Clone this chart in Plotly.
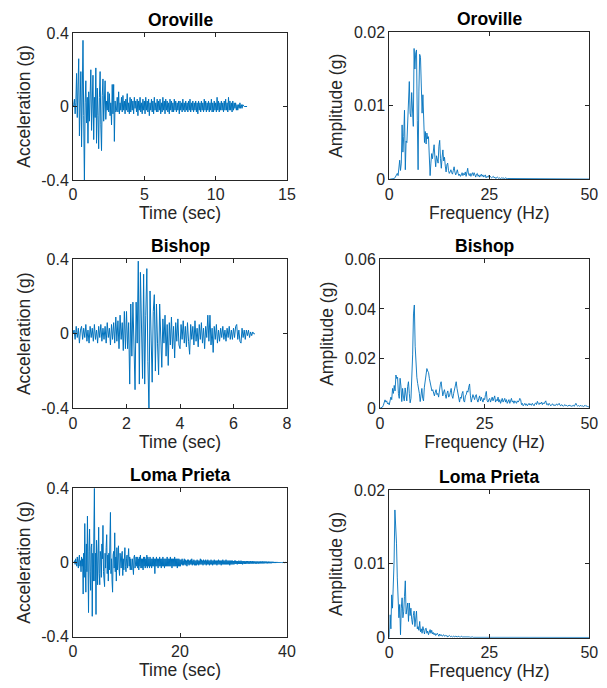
import numpy as np
import plotly.graph_objects as go
from plotly.subplots import make_subplots

# sample steps of the records (sec) and of the spectra (Hz)
oro_dt = 0.05
bis_dt = 0.04
lom_dt = 0.1
df = 0.2

# acceleration records (g)
oro_acc = [
    0, 0.01, 0.04, -0.04, 0.02, 0.18, -0.06, 0.05, 0.26, -0.16,
    0.08, 0.19, -0.22, 0.10, 0.36, -0.05, -0.42, 0.02, 0.14, -0.09,
    0.05, -0.20, 0.08, -0.08, 0.10, 0.20, -0.13, 0.06, 0.17, -0.18,
    0.05, -0.06, 0.21, -0.20, 0.10, -0.05, -0.23, 0.05, 0.19, -0.10,
    -0.24, 0.06, 0.15, -0.08, 0.04, 0.14, -0.07, 0.03, -0.02, 0.08,
    -0.03, 0.07, -0.05, 0.02, -0.10, 0.12, -0.04, 0.12, -0.19, 0.03,
    -0.03, -0.02, 0.05, -0.03, 0.08, -0.04, 0.02, -0.02, 0.05, -0.03,
    0.06, -0.02, 0.03, -0.04, 0.04, -0.02, 0.07, -0.03, 0.02, -0.04,
    0.05, -0.03, 0.04, -0.02, 0.03, -0.04, 0.05, -0.01, 0.03, -0.03,
    0.04, -0.05, 0.03, -0.02, 0.05, -0.03, 0.02, -0.04, 0.04, -0.02,
    0.03, -0.04, 0.05, -0.02, 0.03, -0.03, 0.04, -0.05, 0.02, -0.02,
    0.04, -0.03, 0.03, -0.04, 0.05, -0.02, 0.02, -0.03, 0.04, -0.03,
    0.03, -0.02, 0.04, -0.04, 0.02, -0.03, 0.05, -0.02, 0.03, -0.04,
    0.04, -0.02, 0.03, -0.03, 0.02, -0.04, 0.04, -0.02, 0.03, -0.03,
    0.02, -0.03, 0.04, -0.02, 0.03, -0.03, 0.02, -0.02, 0.03, -0.04,
    0.03, -0.02, 0.02, -0.03, 0.04, -0.02, 0.02, -0.03, 0.03, -0.02,
    0.02, -0.03, 0.03, -0.02, 0.04, -0.03, 0.02, -0.02, 0.03, -0.03,
    0.02, -0.02, 0.03, -0.03, 0.02, -0.04, 0.03, -0.02, 0.02, -0.03,
    0.03, -0.02, 0.02, -0.03, 0.04, -0.02, 0.03, -0.03, 0.02, -0.02,
    0.03, -0.03, 0.02, -0.02, 0.04, -0.03, 0.02, -0.03, 0.03, -0.02,
    0.02, -0.03, 0.05, -0.02, 0.03, -0.03, 0.02, -0.02, 0.03, -0.02,
    0.02, -0.03, 0.03, -0.02, 0.04, -0.02, 0.02, -0.03, 0.05, -0.02,
    0.03, -0.02, 0.02, -0.03, 0.03, -0.02, 0.02, -0.01, 0.02, -0.02,
    0.01, -0.02, 0.01, -0.01, 0.02, -0.01, 0.01, -0.01, 0.01, 0.00,
    0.00, 0.00, 0.00, 0.00, 0.00,
]
bis_acc = [
    0, 0.02, -0.03, 0.04, -0.02, 0.03, -0.05, 0.02, 0.04, -0.03,
    0.03, -0.02, 0.05, -0.04, 0.02, -0.05, 0.04, -0.02, 0.03, -0.04,
    0.05, -0.03, 0.02, -0.05, 0.04, -0.02, 0.05, -0.04, 0.03, -0.03,
    0.04, -0.05, 0.06, -0.02, 0.03, -0.06, 0.05, -0.03, 0.06, -0.05,
    0.09, -0.04, 0.07, -0.08, 0.10, -0.03, 0.06, -0.09, 0.12, -0.08,
    0.12, -0.08, 0.06, -0.27, 0.16, -0.12, 0.17, -0.15, -0.30, 0.17,
    -0.05, 0.39, -0.27, 0.33, -0.10, -0.24, 0.32, -0.27, 0.10, 0.35,
    -0.15, -0.42, 0.23, -0.10, -0.26, 0.12, 0.21, -0.20, 0.16, -0.05,
    -0.22, 0.16, -0.10, -0.18, 0.08, -0.05, 0.10, -0.12, 0.05, -0.17,
    0.06, -0.06, 0.09, -0.08, 0.04, -0.13, 0.06, -0.04, 0.08, -0.06,
    -0.08, 0.05, -0.03, 0.07, -0.05, 0.04, -0.07, 0.06, -0.04, -0.11,
    0.05, -0.03, 0.04, -0.06, 0.07, -0.04, 0.03, -0.07, 0.05, -0.03,
    0.06, -0.05, 0.03, -0.08, 0.04, -0.02, 0.10, -0.04, 0.10, -0.06,
    0.03, -0.10, 0.04, -0.03, 0.05, -0.05, 0.02, -0.04, 0.03, -0.02,
    0.04, -0.03, 0.02, -0.04, 0.03, -0.02, 0.04, -0.03, 0.02, -0.03,
    0.03, -0.02, 0.04, 0.05, -0.03, 0.02, -0.04, -0.05, 0.03, -0.02,
    0.02, -0.03, 0.02, -0.01, 0.02, -0.02, 0.01, -0.01, 0.01, 0.00,
    0.00,
]
lom_acc = [
    0, 0, 0, 0.01, -0.01, 0.02, 0.00, -0.02, 0.03, 0.01,
    -0.03, 0.02, 0.04, -0.02, 0.01, -0.05, 0.03, -0.02, 0.02, -0.17,
    0.05, -0.08, 0.21, -0.03, -0.16, 0.10, -0.05, 0.25, -0.12, -0.27,
    0.06, 0.18, -0.05, -0.15, 0.08, 0.10, -0.29, 0.05, -0.10, 0.12,
    0.40, -0.10, 0.05, -0.28, 0.12, 0.03, -0.12, 0.08, 0.19, -0.06,
    -0.12, 0.06, 0.03, -0.08, 0.10, 0.02, 0.20, -0.05, -0.09, -0.13,
    0.05, -0.03, 0.08, 0.15, -0.06, 0.04, -0.10, 0.05, -0.04, 0.10,
    0.27, -0.06, 0.02, -0.10, -0.16, 0.04, 0.06, -0.03, 0.16, -0.05,
    0.03, -0.10, 0.08, -0.04, 0.02, 0.09, -0.03, -0.07, 0.05, 0.01,
    -0.03, 0.04, 0.06, -0.07, 0.02, -0.04, 0.03, 0.08, -0.02, -0.05,
    0.02, 0.04, -0.03, 0.05, 0.075, -0.02, 0.03, -0.04, 0.02, -0.03,
    -0.04, 0.02, -0.03, -0.065, 0.03, 0.04, -0.03, 0.02, 0.03, -0.02,
    0.03, -0.03, 0.02, -0.04, 0.03, -0.02, 0.04, -0.03, 0.02, -0.03,
    0.02, -0.04, 0.03, -0.02, 0.03, -0.03, 0.02, -0.02, 0.04, -0.03,
    0.03, -0.02, 0.02, -0.03, 0.03, -0.02, 0.02, -0.03, 0.02, -0.02,
    0.03, -0.02, 0.02, -0.06, 0.02, -0.02, 0.03, -0.02, 0.02, -0.03,
    0.02, -0.02, 0.03, -0.02, 0.02, -0.03, 0.02, -0.02, 0.03, -0.02,
    0.02, -0.03, 0.02, -0.02, 0.02, -0.02, 0.03, -0.02, 0.02, -0.02,
    0.02, -0.02, 0.03, -0.02, 0.02, -0.03, 0.02, -0.02, 0.02, -0.02,
    0.03, -0.02, 0.02, -0.02, 0.02, -0.03, 0.02, -0.02, 0.02, -0.02,
    0.015, -0.02, 0.015, -0.01, 0.02, -0.015, 0.01, -0.015, 0.02, -0.01,
    0.015, -0.015, 0.01, -0.02, 0.015, -0.01, 0.015, -0.015, 0.01, -0.01,
    0.015, -0.01, 0.02, -0.015, 0.01, -0.01, 0.015, -0.015, 0.01, -0.015,
    0.01, -0.015, 0.015, -0.01, 0.01, -0.015, 0.01, -0.01, 0.02, -0.01,
    0.015, -0.01, 0.01, -0.015, 0.015, -0.01, 0.01, -0.01, 0.015, -0.015,
    0.01, -0.01, 0.015, -0.01, 0.01, -0.015, 0.01, -0.01, 0.015, -0.01,
    0.01, -0.015, 0.01, -0.01, 0.015, -0.01, 0.01, -0.01, 0.01, -0.015,
    0.01, -0.01, 0.015, -0.01, 0.01, -0.01, 0.01, -0.015, 0.01, -0.01,
    0.015, -0.01, 0.01, -0.01, 0.01, -0.01, 0.015, -0.01, 0.01, -0.01,
    0.01, -0.01, 0.01, -0.015, 0.01, -0.01, 0.01, -0.01, 0.01, -0.01,
    0.008, -0.01, 0.01, -0.008, 0.01, -0.008, 0.008, -0.01, 0.008, -0.008,
    0.01, -0.008, 0.008, -0.008, 0.01, -0.008, 0.008, -0.01, 0.008, -0.006,
    0.008, -0.008, 0.006, -0.008, 0.008, -0.006, 0.008, -0.006, 0.006, -0.008,
    0.006, -0.006, 0.008, -0.006, 0.006, -0.006, 0.008, -0.006, 0.006, -0.005,
    0.006, -0.006, 0.005, -0.006, 0.006, -0.005, 0.005, -0.006, 0.005, -0.005,
    0.006, -0.005, 0.005, -0.005, 0.006, -0.005, 0.005, -0.005, 0.005, -0.004,
    0.005, -0.004, 0.005, -0.005, 0.004, -0.004, 0.005, -0.004, 0.004, -0.004,
    0.004, -0.004, 0.004, -0.003, 0.004, -0.003, 0.003, -0.003, 0.003, -0.003,
    0.003, -0.002, 0.003, -0.002, 0.002, -0.002, 0.002, -0.002, 0.002, -0.001,
    0.002, -0.001, 0.001, -0.001, 0.001, -0.001, 0.001, 0.000, 0.001, 0.000,
    0.000,
]

# Fourier amplitude spectra (g)
oro_amp = [
    0, 0, 0, 0, 0, 0, 0.0001, 0.0002, 0.0004, 0.0006,
    0.0008, 0.0005, 0.0018, 0.0026, 0.0012, 0.0022, 0.0074, 0.0037, 0.0058, 0.0094,
    0.0013, 0.0052, 0.0050, 0.0074, 0.0101, 0.0133, 0.0090, 0.0085, 0.0118, 0.0095,
    0.0072, 0.0178, 0.0150, 0.0172, 0.0176, 0.0080, 0.0013, 0.0120, 0.0170, 0.0166,
    0.0140, 0.0090, 0.0115, 0.0062, 0.0050, 0.0065, 0.0048, 0.0063, 0.0055, 0.0058,
    0.0030, 0.0005, 0.0022, 0.0035, 0.0028, 0.0040, 0.0047, 0.0030, 0.0017, 0.0032,
    0.0025, 0.0022, 0.0045, 0.0053, 0.0028, 0.0015, 0.0030, 0.0040, 0.0025, 0.0030,
    0.0018, 0.0010, 0.0020, 0.0022, 0.0012, 0.0008, 0.0010, 0.0013, 0.0009, 0.0007,
    0.0012, 0.0017, 0.0010, 0.0006, 0.0009, 0.0013, 0.0008, 0.0005, 0.0007, 0.0004,
    0.0006, 0.0009, 0.0005, 0.0008, 0.0006, 0.0010, 0.0004, 0.0011, 0.0015, 0.0007,
    0.0005, 0.0008, 0.0004, 0.0007, 0.0009, 0.0005, 0.0009, 0.0006, 0.0003, 0.0007,
    0.0008, 0.0004, 0.0006, 0.0003, 0.0005, 0.0007, 0.0004, 0.0006, 0.0003, 0.0005,
    0.0006, 0.0002, 0.0004, 0.0003, 0.0005, 0.0002, 0.0004, 0.0003, 0.0002, 0.0003,
    0.0004, 0.0002, 0.0003, 0.0001, 0.0002, 0.0003, 0.0002, 0.0001, 0.0002, 0.0001,
    0.0002, 0.0001, 0.0002, 0.0001, 0.0001, 0.0002, 0.0001, 0.0001, 0.0001, 0.0001,
    0.0001, 0.00005, 0.0001, 0.00005, 0.0001, 0.00005, 0.00005, 0.0001, 0.00005, 0.00005,
    0.0001, 0.00005, 0.00005, 0.00005, 0.0001, 0.00005, 0.00005, 0.00005, 0.00005, 0.0001,
    0.00005, 0.00005, 0.00005, 0.00003, 0.00005, 0.00005, 0.00003, 0.00005, 0.00005, 0.00003,
    0.00005, 0.00003, 0.00005, 0.00003, 0.00003, 0.00005, 0.00003, 0.00003, 0.00005, 0.00003,
    0.00003, 0.00003, 0.00005, 0.00003, 0.00003, 0.00003, 0.00003, 0.00005, 0.00003, 0.00003,
    0.00003, 0.00003, 0.00003, 0.00005, 0.00003, 0.00003, 0.00003, 0.00003, 0.00003, 0.00003,
    0.00003, 0.00005, 0.00003, 0.00003, 0.00003, 0.00003, 0.00003, 0.00003, 0.00005, 0.00003,
    0.00003, 0.00003, 0.00003, 0.00003, 0.00003, 0.00003, 0.00003, 0.00003, 0.00003, 0.00003,
    0.00003, 0.00003, 0.00005, 0.00003, 0.00003, 0.00003, 0.00003, 0.00003, 0.00003, 0.00003,
    0.00003, 0.00003, 0.00003, 0.00003, 0.00003, 0.00003, 0.00003, 0.00003, 0.00003, 0.00003,
    0.00003,
]
bis_amp = [
    0, 0.0002, 0.0001, 0.0005, 0.0012, 0.0020, 0.0034, 0.0025, 0.0030, 0.0018,
    0.0022, 0.0014, 0.0030, 0.0045, 0.0035, 0.0080, 0.0060, 0.0092, 0.0070, 0.0134,
    0.0120, 0.0125, 0.0060, 0.0040, 0.0121, 0.0090, 0.0027, 0.0080, 0.0045, 0.0030,
    0.0082, 0.0050, 0.0030, 0.0087, 0.0107, 0.0060, 0.0022, 0.0040, 0.0110, 0.0215,
    0.0380, 0.0416, 0.0250, 0.0160, 0.0125, 0.0100, 0.0085, 0.0060, 0.0027, 0.0060,
    0.0080, 0.0040, 0.0030, 0.0085, 0.0110, 0.0147, 0.0160, 0.0150, 0.0144, 0.0120,
    0.0098, 0.0085, 0.0070, 0.0075, 0.0060, 0.0050, 0.0065, 0.0075, 0.0055, 0.0060,
    0.0045, 0.0080, 0.0095, 0.0107, 0.0080, 0.0050, 0.0065, 0.0075, 0.0055, 0.0040,
    0.0060, 0.0070, 0.0045, 0.0050, 0.0065, 0.0080, 0.0050, 0.0040, 0.0060, 0.0075,
    0.0095, 0.0107, 0.0080, 0.0065, 0.0040, 0.0025, 0.0045, 0.0040, 0.0060, 0.0068,
    0.0030, 0.0025, 0.0050, 0.0055, 0.0070, 0.0065, 0.0085, 0.0098, 0.0050, 0.0025,
    0.0040, 0.0055, 0.0045, 0.0035, 0.0050, 0.0055, 0.0035, 0.0025, 0.0040, 0.0050,
    0.0030, 0.0045, 0.0035, 0.0025, 0.0040, 0.0035, 0.0055, 0.0068, 0.0030, 0.0025,
    0.0035, 0.0040, 0.0025, 0.0035, 0.0045, 0.0030, 0.0040, 0.0050, 0.0025, 0.0035,
    0.0030, 0.0045, 0.0025, 0.0035, 0.0020, 0.0030, 0.0040, 0.0025, 0.0030, 0.0040,
    0.0025, 0.0035, 0.0020, 0.0030, 0.0035, 0.0020, 0.0030, 0.0040, 0.0025, 0.0030,
    0.0020, 0.0030, 0.0025, 0.0020, 0.0030, 0.0025, 0.0030, 0.0040, 0.0035, 0.0015,
    0.0020, 0.0010, 0.0015, 0.0020, 0.0012, 0.0018, 0.0010, 0.0015, 0.0020, 0.0013,
    0.0018, 0.0012, 0.0020, 0.0015, 0.0010, 0.0018, 0.0022, 0.0015, 0.0028, 0.0020,
    0.0015, 0.0022, 0.0018, 0.0025, 0.0015, 0.0022, 0.0018, 0.0025, 0.0030, 0.0015,
    0.0018, 0.0012, 0.0020, 0.0015, 0.0010, 0.0015, 0.0018, 0.0012, 0.0015, 0.0010,
    0.0013, 0.0018, 0.0012, 0.0015, 0.0020, 0.0012, 0.0010, 0.0015, 0.0012, 0.0008,
    0.0012, 0.0015, 0.0010, 0.0012, 0.0008, 0.0010, 0.0013, 0.0009, 0.0011, 0.0008,
    0.0010, 0.0012, 0.0008, 0.0015, 0.0020, 0.0012, 0.0009, 0.0011, 0.0008, 0.0010,
    0.0012, 0.0008, 0.0010, 0.0007, 0.0009, 0.0012, 0.0008, 0.0010, 0.0007, 0.0006,
    0.0005,
]
lom_amp = [
    0, 0.0031, 0.0012, 0.0058, 0.0040, 0.0062, 0.0104, 0.0173, 0.0149, 0.0128,
    0.0081, 0.0060, 0.0027, 0.0045, 0.0004, 0.0040, 0.0054, 0.0027, 0.0035, 0.0056,
    0.0077, 0.0032, 0.0045, 0.0047, 0.0022, 0.0047, 0.0030, 0.0040, 0.0025, 0.0018,
    0.0030, 0.0036, 0.0015, 0.0028, 0.0036, 0.0012, 0.0015, 0.0010, 0.0022, 0.0008,
    0.0012, 0.0006, 0.0015, 0.0010, 0.0005, 0.0012, 0.0013, 0.0006, 0.0009, 0.0004,
    0.0008, 0.0011, 0.0006, 0.0010, 0.0005, 0.0007, 0.0004, 0.0006, 0.0003, 0.0005,
    0.0006, 0.0004, 0.0002, 0.0005, 0.0003, 0.0004, 0.0002, 0.0003, 0.0004, 0.0002,
    0.0003, 0.0002, 0.0003, 0.0001, 0.0002, 0.0003, 0.0002, 0.0001, 0.0002, 0.0001,
    0.0002, 0.0001, 0.0001, 0.0002, 0.0001, 0.0001, 0.0002, 0.0001, 0.0001, 0.0001,
    0.0002, 0.0001, 0.0001, 0.0001, 0.0001, 0.0002, 0.0001, 0.0001, 0.0001, 0.0001,
    0.0001, 0.00005, 0.0001, 0.00005, 0.0001, 0.00005, 0.00005, 0.0001, 0.00005, 0.00005,
    0.0001, 0.00005, 0.00005, 0.00005, 0.0001, 0.00005, 0.00005, 0.00005, 0.00005, 0.00005,
    0.00005, 0.00003, 0.00005, 0.00003, 0.00005, 0.00003, 0.00005, 0.00003, 0.00003, 0.00005,
    0.00003, 0.00003, 0.00005, 0.00003, 0.00003, 0.00003, 0.00005, 0.00003, 0.00003, 0.00003,
    0.00003, 0.00003, 0.00003, 0.00005, 0.00003, 0.00003, 0.00003, 0.00003, 0.00003, 0.00003,
    0.00003, 0.00003, 0.00003, 0.00003, 0.00003, 0.00003, 0.00003, 0.00005, 0.00003, 0.00003,
    0.00003, 0.00003, 0.00003, 0.00003, 0.00003, 0.00003, 0.00003, 0.00003, 0.00003, 0.00003,
    0.00003, 0.00003, 0.00003, 0.00003, 0.00003, 0.00003, 0.00003, 0.00003, 0.00003, 0.00003,
    0.00003, 0.00003, 0.00003, 0.00003, 0.00003, 0.00003, 0.00003, 0.00003, 0.00003, 0.00003,
    0.00003, 0.00003, 0.00003, 0.00003, 0.00003, 0.00003, 0.00003, 0.00003, 0.00003, 0.00003,
    0.00003, 0.00003, 0.00003, 0.00003, 0.00003, 0.00003, 0.00003, 0.00003, 0.00003, 0.00003,
    0.00003, 0.00003, 0.00003, 0.00003, 0.00003, 0.00003, 0.00003, 0.00003, 0.00003, 0.00003,
    0.00003, 0.00003, 0.00003, 0.00003, 0.00003, 0.00003, 0.00003, 0.00003, 0.00003, 0.00003,
    0.00003, 0.00003, 0.00003, 0.00003, 0.00003, 0.00003, 0.00003, 0.00003, 0.00003, 0.00003,
    0.00003, 0.00003, 0.00003, 0.00003, 0.00003, 0.00003, 0.00003, 0.00003, 0.00003, 0.00003,
    0.00003,
]

names = ['Oroville', 'Bishop', 'Loma Prieta']

# tick values and labels
acc_ticks = [-0.4, 0, 0.4]
acc_labels = ['-0.4', '0', '0.4']
time_ticks = [[0, 5, 10, 15], [0, 2, 4, 6, 8], [0, 20, 40]]
freq_ticks = [0, 25, 50]
amp_ticks = [[0, 0.01, 0.02], [0, 0.02, 0.04, 0.06], [0, 0.01, 0.02]]
amp_labels = [['0', '0.01', '0.02'], ['0', '0.02', '0.04', '0.06'], ['0', '0.01', '0.02']]

# the page puts the plot 8 px in from the window corner, so the figure is 8 px smaller
OFF = 8
W, H = 607 - OFF, 688 - OFF
FONT = 'Liberation Sans, Arial, sans-serif'
BLUE = '#0072BD'
AX = '#262626'

# axes boxes in window pixels (left, right, top, bottom)
boxes = {
    (1, 1): (73, 287, 33, 180), (1, 2): (389.3, 589.3, 32.3, 179.3),
    (2, 1): (73, 287, 259.3, 408.3), (2, 2): (380, 589.3, 259.3, 408.3),
    (3, 1): (73, 287, 488.3, 636.7), (3, 2): (389.3, 589.3, 490, 637.7),
}


def px_x(p):
    return (p - OFF) / W


def px_y(p):
    return 1 - (p - OFF) / H


def main():
    fig = make_subplots(rows=3, cols=2)
    recs = [(oro_acc, oro_dt, oro_amp), (bis_acc, bis_dt, bis_amp), (lom_acc, lom_dt, lom_amp)]
    for i, (acc, dt, amp) in enumerate(recs):
        r = i + 1
        t = np.arange(len(acc)) * dt
        f = np.arange(len(amp)) * df
        fig.add_trace(go.Scatter(x=t, y=acc, mode='lines', line=dict(color=BLUE, width=1)), row=r, col=1)
        fig.add_trace(go.Scatter(x=f, y=amp, mode='lines', line=dict(color=BLUE, width=0.9)), row=r, col=2)
        style_axes(fig, r, 1, [0, time_ticks[i][-1]], time_ticks[i], 'Time (sec)',
                   [-0.4, 0.4], acc_ticks, acc_labels, 'Acceleration (g)')
        style_axes(fig, r, 2, [0, 50], freq_ticks, 'Frequency (Hz)',
                   [0, amp_ticks[i][-1]], amp_ticks[i], amp_labels[i], 'Amplitude (g)')
        # titles above each box
        for c in (1, 2):
            l, rr, tp, b = boxes[(r, c)]
            fig.add_annotation(text='<b>' + names[i] + '</b>', xref='paper', yref='paper',
                               x=px_x((l + rr) / 2), y=px_y(tp), xanchor='center', yanchor='bottom',
                               yshift=1, showarrow=False, font=dict(family=FONT, size=17.5, color='black'))

    fig.update_layout(width=W, height=H, margin=dict(l=0, r=0, t=0, b=0),
                      plot_bgcolor='white', paper_bgcolor='white', showlegend=False,
                      font=dict(family=FONT, color=AX))
    fig.write_html("out.html")


def style_axes(fig, r, c, xr, xt, xtitle, yr, yt, ylab, ytitle):
    l, rr, tp, b = boxes[(r, c)]
    common = dict(showline=True, linecolor=AX, linewidth=1, mirror='ticks', ticks='inside',
                  ticklen=4, tickcolor=AX, showgrid=False, zeroline=False, automargin=False,
                  tickfont=dict(family=FONT, size=16, color=AX))
    fig.update_xaxes(domain=[px_x(l), px_x(rr)], range=xr, tickvals=xt, ticktext=[str(v) for v in xt],
                     title=dict(text=xtitle, font=dict(family=FONT, size=17.5, color=AX), standoff=2),
                     row=r, col=c, **common)
    fig.update_yaxes(domain=[px_y(b), px_y(tp)], range=yr, tickvals=yt, ticktext=ylab,
                     title=dict(text=ytitle, font=dict(family=FONT, size=17.5, color=AX), standoff=6),
                     row=r, col=c, **common)


main()
